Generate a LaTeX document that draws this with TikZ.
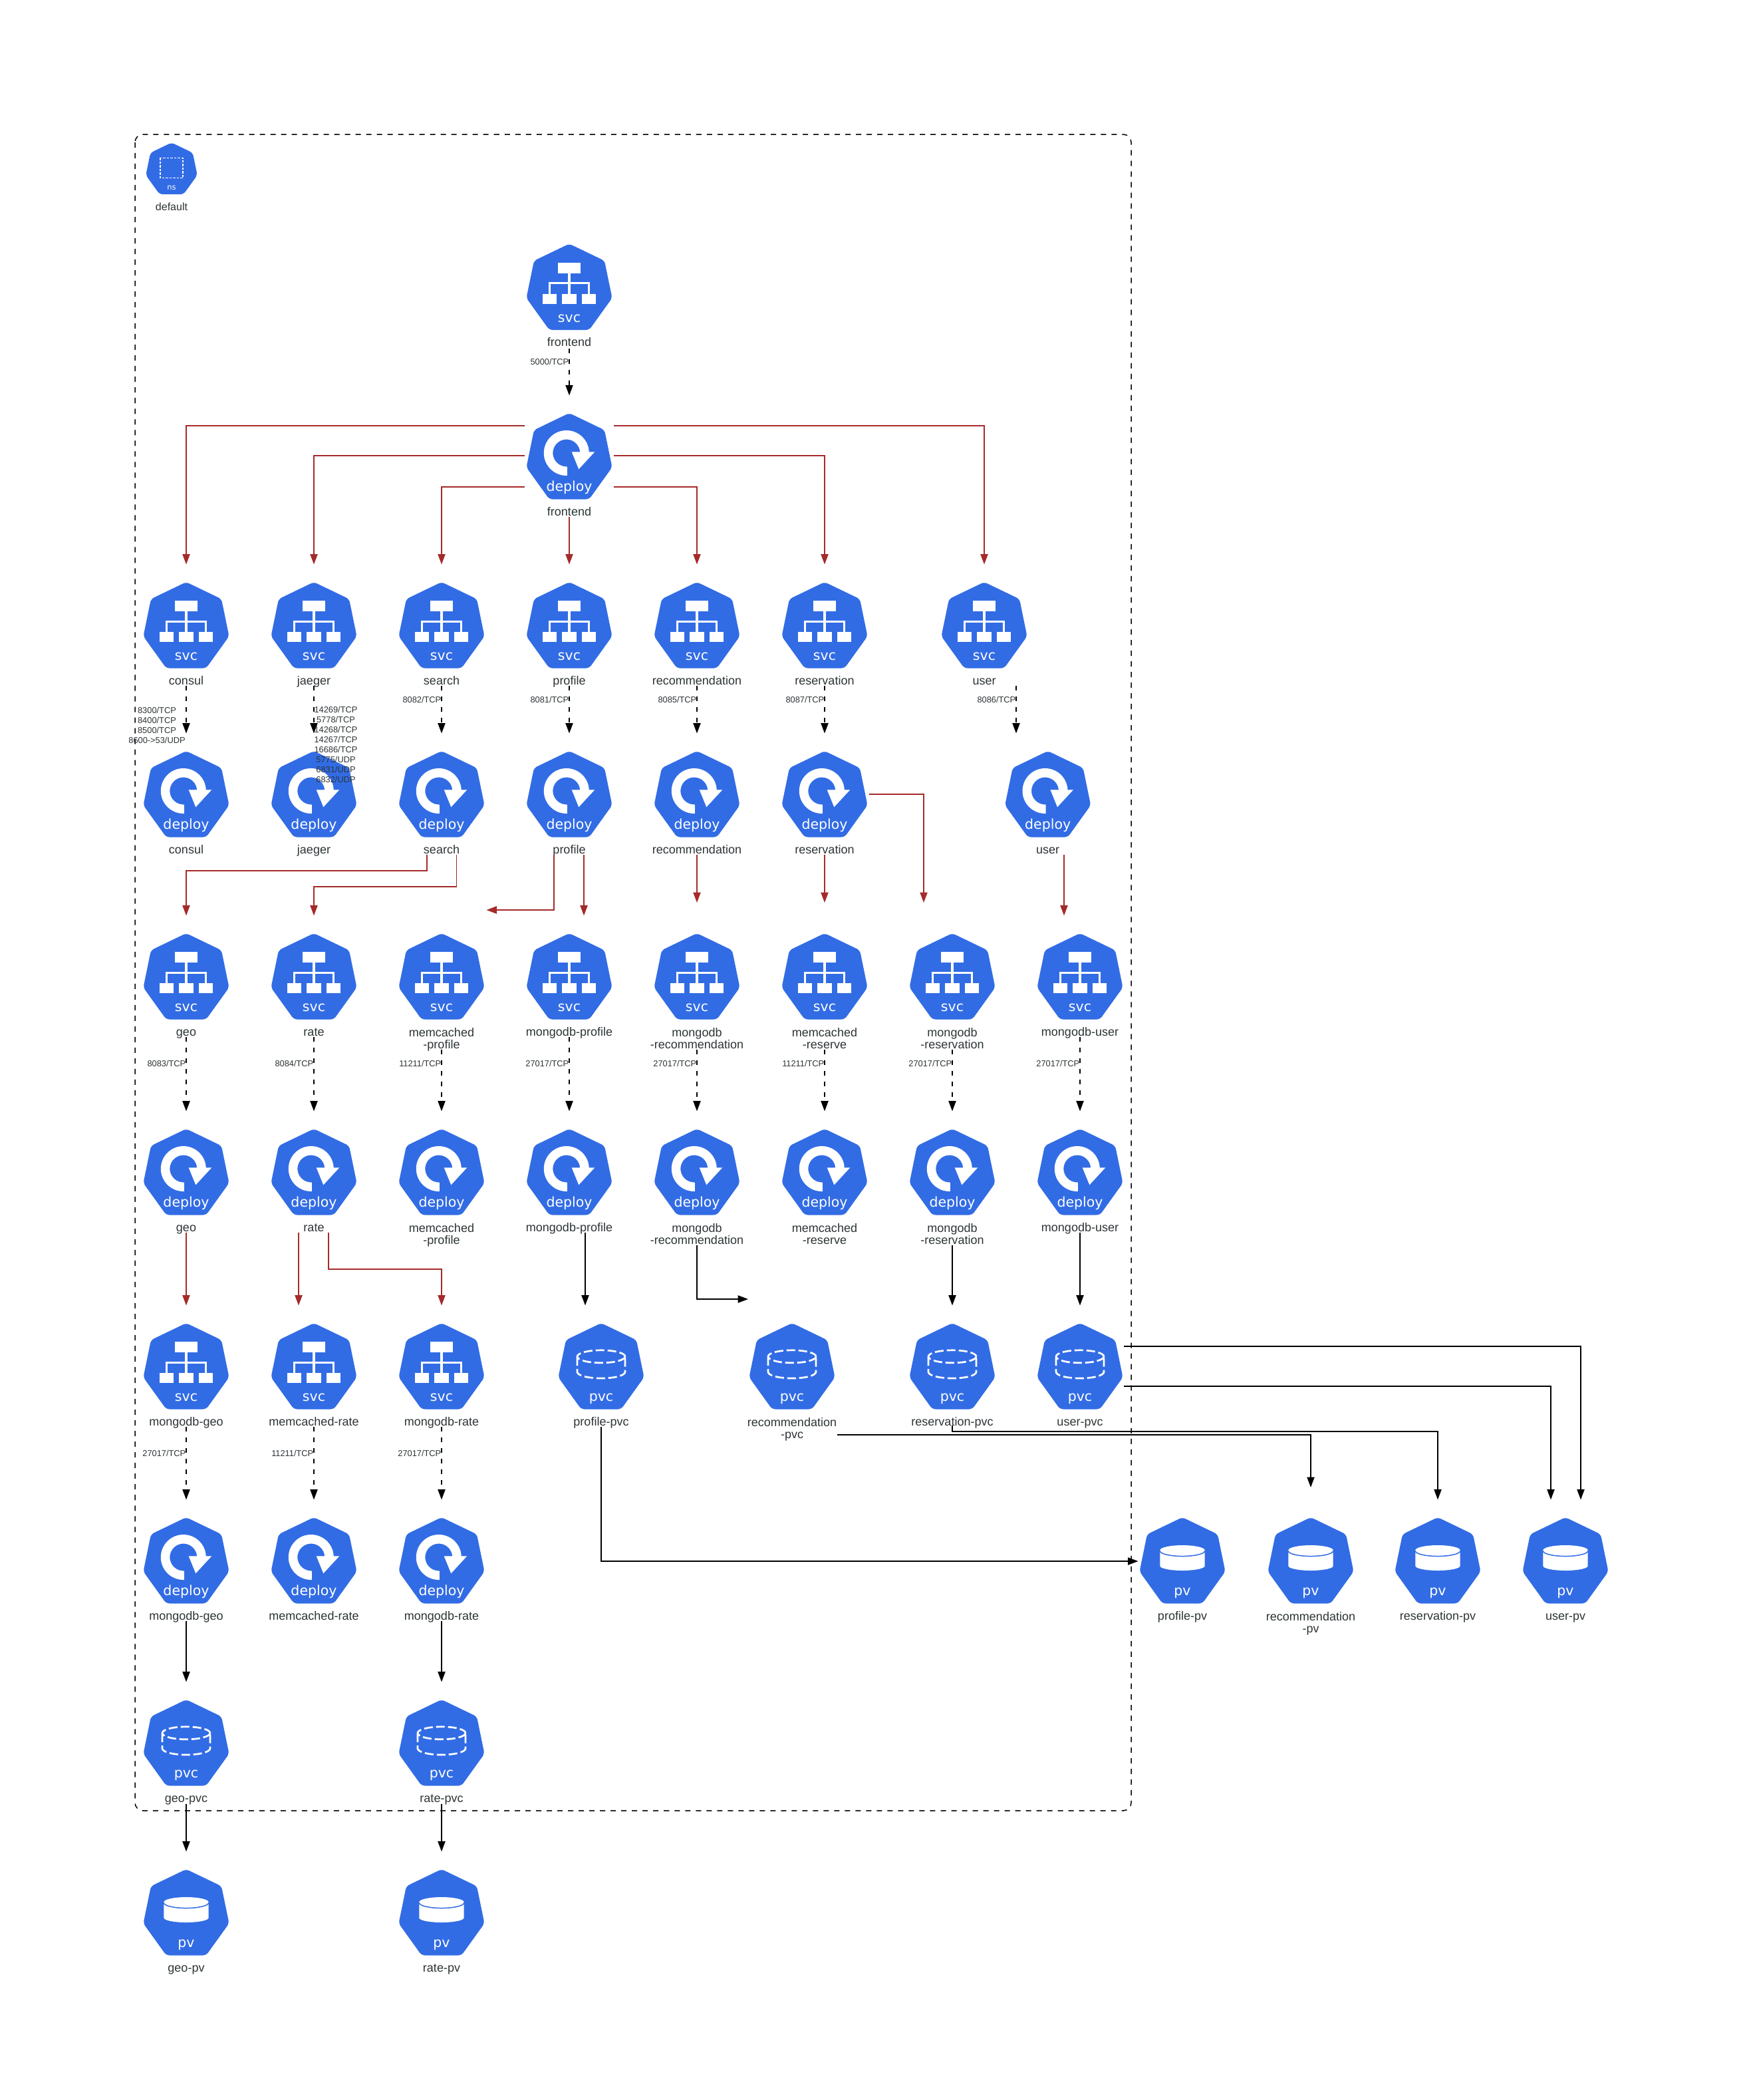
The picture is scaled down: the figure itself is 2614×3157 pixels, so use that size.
\documentclass[tikz,border=0pt]{standalone}
\usepackage{fontspec}
\setmainfont{Liberation Sans}
\newfontfamily\kwordfont{DejaVu Sans}
\usetikzlibrary{arrows.meta,calc}
\definecolor{kblue}{HTML}{326CE5}
\definecolor{ktext}{HTML}{2D3436}
\definecolor{kbrown}{HTML}{A52A2A}
\tikzset{
  iconbox/.style={minimum width=1.27cm,minimum height=1.28cm,inner sep=0pt,draw=none},
  kword/.style={anchor=base,inner sep=0pt,text=white,font=\kwordfont\fontsize{5.83pt}{5.83pt}\selectfont},
  klabel/.style={anchor=base,inner sep=0pt,text=ktext,align=center,font=\fontsize{5.12pt}{5.12pt}\selectfont},
  elabel/.style={inner sep=0pt,text=ktext,align=center,font=\fontsize{3.65pt}{4.27pt}\selectfont},
  ktip/.style={-{Triangle[length=1.55mm,width=1.12mm]}},
  kred/.style={ktip,draw=kbrown,line width=0.016cm},
  kblack/.style={ktip,draw=black,line width=0.016cm},
  kdash/.style={ktip,draw=black,line width=0.016cm,dash pattern=on 0.07cm off 0.09cm},
  kframe/.style={draw=black,line width=0.015cm,dash pattern=on 0.08cm off 0.08cm,rounded corners=0.12cm},
  kpvcline/.style={draw=white,line width=0.027cm,dash pattern=on 0.13cm off 0.05cm},
}
\newcommand{\kheptagon}{\fill[kblue,rounded corners=0.05cm] (0,-1) -- (53,24.5) -- (64.5,80.5) -- (30,128.5) -- (-30,128.5) -- (-64.5,80.5) -- (-53,24.5) -- cycle;}
\newcommand{\kglyphsvc}{%
  \fill[white] (-17,27) rectangle (17,43);
  \fill[white] (-1.6,43) rectangle (1.6,74);
  \draw[white,line width=0.03cm] (-29.5,74) -- (-29.5,58.4) -- (29.5,58.4) -- (29.5,74);
  \fill[white] (-40,74) rectangle (-19,89);
  \fill[white] (-10.7,74) rectangle (10.7,89);
  \fill[white] (19,74) rectangle (40,89);}
\newcommand{\kglyphdeploy}{%
  \fill[white] (29.8,59) arc[start angle=0,end angle=-270,radius=34] -- (-3.2,93) -- (-3.2,79.5) -- (-4.2,79.5) arc[start angle=-270,end angle=0,radius=20.5] -- cycle;
  \fill[white] (3.7,57.3) -- (38.3,57.3) -- (14.3,83.3) -- cycle;}
\newcommand{\kglyphpvc}{%
  \draw[kpvcline] (0,49.3) ellipse [x radius=36,y radius=9.5];
  \draw[kpvcline] (-36,50) -- (-36,72.5) arc[start angle=180,end angle=0,x radius=36,y radius=9.5] -- (36,50);}
\newcommand{\kglyphpv}{%
  \fill[white] (-33.7,48.5) -- (-33.7,72) arc[start angle=180,end angle=0,x radius=33.7,y radius=7] -- (33.7,48.5) arc[start angle=0,end angle=-180,x radius=33.7,y radius=7.5] -- cycle;
  \draw[kblue,line width=0.015cm] (-33.7,49.5) arc[start angle=180,end angle=0,x radius=33.7,y radius=8];}
% name, x, top, kind, label
\newcommand{\kicon}[5]{%
  \begin{scope}[shift={(#2,#3)}]
    \kheptagon
    \csname kglyph#4\endcsname
    \node[kword] (#1-k) at (0,116.6) {#4};
    \node[iconbox] (#1) at (0,64) {};
    \node[klabel] (#1-l) at (0,153) {#5};
  \end{scope}}
% name, x, top, kind, label first line, label second line
\newcommand{\kicontwo}[6]{%
  \begin{scope}[shift={(#2,#3)}]
    \kheptagon
    \csname kglyph#4\endcsname
    \node[kword] (#1-k) at (0,116.6) {#4};
    \node[iconbox] (#1) at (0,64) {};
    \node[klabel] (#1-l) at (0,172) {#5\\#6};
  \end{scope}}
% dashed service edge: source, target, source offset, label node name, label, label offset
\newcommand{\kport}[6]{%
  \draw[kdash] ([shift={(0,#3)}]#1.center) -- ([shift={(0,-91.5)}]#2.center);
  \node[elabel,anchor=base east] (#4) at ([shift={(0,#6)}]#1.center) {#5};}
\begin{document}
\begin{tikzpicture}[x=0.01cm,y=-0.01cm]
\useasboundingbox (0,0) rectangle (2614,3157);
\fill[white] (0,0) rectangle (2614,3157);
\draw[kframe] (203,202) rectangle (1701,2722);

% namespace
\begin{scope}[shift={(258,215)}]
  \begin{scope}[scale=0.6]\kheptagon\end{scope}
  \draw[white,line width=0.014cm,dash pattern=on 0.035cm off 0.02cm] (-17,22.3) rectangle (17,52.7);
  \node[kword,font=\kwordfont\fontsize{3.27pt}{3.27pt}\selectfont] (ns-k) at (0,70) {ns};
  \node[iconbox,minimum width=0.76cm,minimum height=0.77cm] (ns) at (0,38) {};
  \node[klabel,font=\fontsize{4.55pt}{4.55pt}\selectfont] (ns-l) at (0,101) {default};
\end{scope}

% icons
\kicon{sfrontend}{856}{367.5}{svc}{frontend}
\kicon{dfrontend}{856}{622}{deploy}{frontend}

\kicon{sconsul}{280}{876}{svc}{consul}
\kicon{sjaeger}{472}{876}{svc}{jaeger}
\kicon{ssearch}{664}{876}{svc}{search}
\kicon{sprofile}{856}{876}{svc}{profile}
\kicon{srec}{1048}{876}{svc}{recommendation}
\kicon{sres}{1240}{876}{svc}{reservation}
\kicon{suser}{1480}{876}{svc}{user}

\kicon{dconsul}{280}{1130}{deploy}{consul}
\kicon{djaeger}{472}{1130}{deploy}{jaeger}
\kicon{dsearch}{664}{1130}{deploy}{search}
\kicon{dprofile}{856}{1130}{deploy}{profile}
\kicon{drec}{1048}{1130}{deploy}{recommendation}
\kicon{dres}{1240}{1130}{deploy}{reservation}
\kicon{duser}{1575.7}{1130}{deploy}{user}

\kicon{sgeo}{280}{1404}{svc}{geo}
\kicon{srate}{472}{1404}{svc}{rate}
\kicontwo{smcp}{664}{1404}{svc}{memcached}{-profile}
\kicon{smdp}{856}{1404}{svc}{mongodb-profile}
\kicontwo{smdrec}{1048}{1404}{svc}{mongodb}{-recommendation}
\kicontwo{smcres}{1240}{1404}{svc}{memcached}{-reserve}
\kicontwo{smdres}{1432}{1404}{svc}{mongodb}{-reservation}
\kicon{smdu}{1624}{1404}{svc}{mongodb-user}

\kicon{dgeo}{280}{1698}{deploy}{geo}
\kicon{drate}{472}{1698}{deploy}{rate}
\kicontwo{dmcp}{664}{1698}{deploy}{memcached}{-profile}
\kicon{dmdp}{856}{1698}{deploy}{mongodb-profile}
\kicontwo{dmdrec}{1048}{1698}{deploy}{mongodb}{-recommendation}
\kicontwo{dmcres}{1240}{1698}{deploy}{memcached}{-reserve}
\kicontwo{dmdres}{1432}{1698}{deploy}{mongodb}{-reservation}
\kicon{dmdu}{1624}{1698}{deploy}{mongodb-user}

\kicon{sgeodb}{280}{1990}{svc}{mongodb-geo}
\kicon{smcrate}{472}{1990}{svc}{memcached-rate}
\kicon{smdrate}{664}{1990}{svc}{mongodb-rate}
\kicon{pvcprofile}{904}{1990}{pvc}{profile-pvc}
\kicontwo{pvcrec}{1191}{1990}{pvc}{recommendation}{-pvc}
\kicon{pvcres}{1432}{1990}{pvc}{reservation-pvc}
\kicon{pvcuser}{1624}{1990}{pvc}{user-pvc}

\kicon{dgeodb}{280}{2282}{deploy}{mongodb-geo}
\kicon{dmcrate}{472}{2282}{deploy}{memcached-rate}
\kicon{dmdrate}{664}{2282}{deploy}{mongodb-rate}
\kicon{pvprofile}{1778}{2282}{pv}{profile-pv}
\kicontwo{pvrec}{1971}{2282}{pv}{recommendation}{-pv}
\kicon{pvres}{2162}{2282}{pv}{reservation-pv}
\kicon{pvuser}{2354}{2282}{pv}{user-pv}

\kicon{pvcgeo}{280}{2556}{pvc}{geo-pvc}
\kicon{pvcrate}{664}{2556}{pvc}{rate-pvc}
\kicon{pvgeo}{280}{2811}{pv}{geo-pv}
\kicon{pvrate}{664}{2811}{pv}{rate-pv}

% service to deployment
\kport{sfrontend}{dfrontend}{92.5}{e1}{5000/TCP}{116.5}
\draw[kdash] ([shift={(0,91)}]sconsul.center) -- ([shift={(0,-91.5)}]dconsul.center);
\node[elabel] (e2) at ([shift={(-44,150)}]sconsul.center) {8300/TCP\\8400/TCP\\8500/TCP\\8600->53/UDP};
\draw[kdash] ([shift={(0,91)}]sjaeger.center) -- ([shift={(0,-91.5)}]djaeger.center);
\kport{ssearch}{dsearch}{91}{e4}{8082/TCP}{116.5}
\kport{sprofile}{dprofile}{91}{e5}{8081/TCP}{116.5}
\kport{srec}{drec}{91}{e6}{8085/TCP}{116.5}
\kport{sres}{dres}{91}{e7}{8087/TCP}{116.5}
\draw[kdash] ([shift={(48,91)}]suser.center) -- ([shift={(-47.7,-91.5)}]duser.center);
\node[elabel,anchor=base east] (e8) at ([shift={(48,116.5)}]suser.center) {8086/TCP};

\kport{sgeo}{dgeo}{91}{e9}{8083/TCP}{135.5}
\kport{srate}{drate}{91}{e10}{8084/TCP}{135.5}
\kport{smcp}{dmcp}{110}{e11}{11211/TCP}{135.5}
\kport{smdp}{dmdp}{91}{e12}{27017/TCP}{135.5}
\kport{smdrec}{dmdrec}{110}{e13}{27017/TCP}{135.5}
\kport{smcres}{dmcres}{110}{e14}{11211/TCP}{135.5}
\kport{smdres}{dmdres}{110}{e15}{27017/TCP}{135.5}
\kport{smdu}{dmdu}{91}{e16}{27017/TCP}{135.5}
\kport{sgeodb}{dgeodb}{91}{e17}{27017/TCP}{135.5}
\kport{smcrate}{dmcrate}{91}{e18}{11211/TCP}{135.5}
\kport{smdrate}{dmdrate}{91}{e19}{27017/TCP}{135.5}

% frontend deployment to services
\draw[kred] ([shift={(-67,-46)}]dfrontend.center) -| ([shift={(0,-91.5)}]sconsul.center);
\draw[kred] ([shift={(-67,-1)}]dfrontend.center) -| ([shift={(0,-91.5)}]sjaeger.center);
\draw[kred] ([shift={(-67,46)}]dfrontend.center) -| ([shift={(0,-91.5)}]ssearch.center);
\draw[kred] ([shift={(0,91)}]dfrontend.center) -- ([shift={(0,-91.5)}]sprofile.center);
\draw[kred] ([shift={(67,46)}]dfrontend.center) -| ([shift={(0,-91.5)}]srec.center);
\draw[kred] ([shift={(67,-1)}]dfrontend.center) -| ([shift={(0,-91.5)}]sres.center);
\draw[kred] ([shift={(67,-46)}]dfrontend.center) -| ([shift={(0,-91.5)}]suser.center);

% deployments to services
\draw[kred] ([shift={(-22,91)}]dsearch.center) -- ++(0,24) -| ([shift={(0,-91.5)}]sgeo.center);
\draw[kred] ([shift={(22.5,91)}]dsearch.center) -- ++(0,48) -| ([shift={(0,-91.5)}]srate.center);
\draw[kred] ([shift={(-23,91)}]dprofile.center) |- ([shift={(67.5,-100)}]smcp.center);
\draw[kred] ([shift={(22,91)}]dprofile.center) -- ([shift={(22,-91.5)}]smdp.center);
\draw[kred] ([shift={(0,91)}]drec.center) -- ([shift={(0,-111)}]smdrec.center);
\draw[kred] ([shift={(0,91)}]dres.center) -- ([shift={(0,-111)}]smcres.center);
\draw[kred] ([shift={(67,0)}]dres.center) -| ([shift={(-43,-111)}]smdres.center);
\draw[kred] ([shift={(24.3,91)}]duser.center) -- ([shift={(-24,-91.5)}]smdu.center);

\draw[kred] ([shift={(0,91)}]dgeo.center) -- ([shift={(0,-91.5)}]sgeodb.center);
\draw[kred] ([shift={(-23,91)}]drate.center) -- ([shift={(-23,-91.5)}]smcrate.center);
\draw[kred] ([shift={(22,91)}]drate.center) -- ++(0,55) -| ([shift={(0,-91.5)}]smdrate.center);

% deployments to claims
\draw[kblack] ([shift={(24,91)}]dmdp.center) -- ([shift={(-24,-91.5)}]pvcprofile.center);
\draw[kblack] ([shift={(0,110)}]dmdrec.center) |- ([shift={(-66,-101)}]pvcrec.center);
\draw[kblack] ([shift={(0,110)}]dmdres.center) -- ([shift={(0,-91.5)}]pvcres.center);
\draw[kblack] ([shift={(0,91)}]dmdu.center) -- ([shift={(0,-91.5)}]pvcuser.center);
\draw[kblack] ([shift={(0,91)}]dgeodb.center) -- ([shift={(0,-91.5)}]pvcgeo.center);
\draw[kblack] ([shift={(0,91)}]dmdrate.center) -- ([shift={(0,-91.5)}]pvcrate.center);

% claims to volumes
\draw[kblack] ([shift={(0,92)}]pvcgeo.center) -- ([shift={(0,-91.5)}]pvgeo.center);
\draw[kblack] ([shift={(0,92)}]pvcrate.center) -- ([shift={(0,-91.5)}]pvrate.center);
\draw[kblack] ([shift={(0,91)}]pvcprofile.center) |- ([shift={(-66.5,1)}]pvprofile.center);
\draw[kblack] ([shift={(68,103)}]pvcrec.center) -| ([shift={(0,-110)}]pvrec.center);
\draw[kblack] ([shift={(0,89)}]pvcres.center) -- ++(0,9) -| ([shift={(0,-91.5)}]pvres.center);
\draw[kblack] ([shift={(66,-30)}]pvcuser.center) -| ([shift={(23,-91.5)}]pvuser.center);
\draw[kblack] ([shift={(66,30)}]pvcuser.center) -| ([shift={(-22,-91.5)}]pvuser.center);

% jaeger ports lie over the icon
\node[elabel] (e3) at ([shift={(33,179.5)}]sjaeger.center) {14269/TCP\\5778/TCP\\14268/TCP\\14267/TCP\\16686/TCP\\5775/UDP\\6831/UDP\\6832/UDP};
\end{tikzpicture}
\end{document}
